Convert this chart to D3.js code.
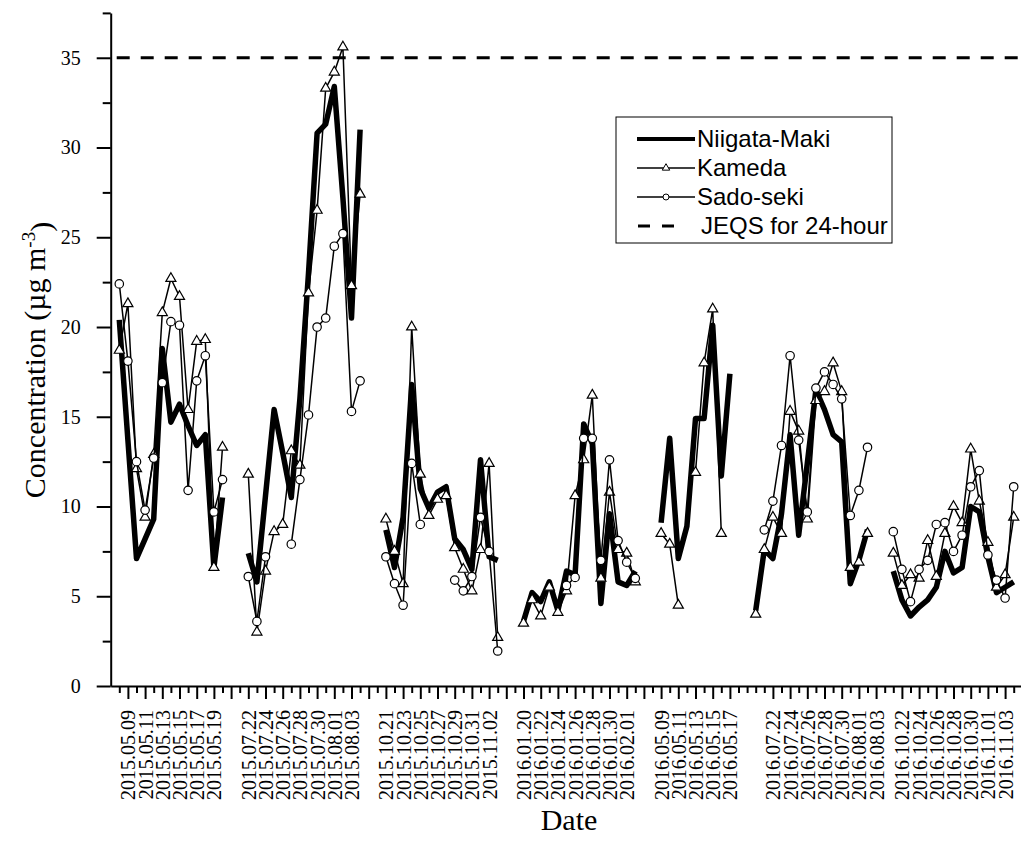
<!DOCTYPE html>
<html>
<head>
<meta charset="utf-8">
<script src="https://cdn.jsdelivr.net/npm/d3@7"></script>
<style>
  body { margin: 0; background: #fff; }
  svg { display: block; }
</style>
</head>
<body>
<div id="chart"></div>
<script>
// sampling dates, one array per campaign
const may2015 = ["2015.05.08","2015.05.09","2015.05.10","2015.05.11","2015.05.12","2015.05.13","2015.05.14","2015.05.15","2015.05.16","2015.05.17","2015.05.18","2015.05.19","2015.05.20"];
const jul2015 = ["2015.07.22","2015.07.23","2015.07.24","2015.07.25","2015.07.26","2015.07.27","2015.07.28","2015.07.29","2015.07.30","2015.07.31","2015.08.01","2015.08.02","2015.08.03","2015.08.04"];
const oct2015 = ["2015.10.21","2015.10.22","2015.10.23","2015.10.24","2015.10.25","2015.10.26","2015.10.27","2015.10.28","2015.10.29","2015.10.30","2015.10.31","2015.11.01","2015.11.02","2015.11.03"];
const jan2016 = ["2016.01.20","2016.01.21","2016.01.22","2016.01.23","2016.01.24","2016.01.25","2016.01.26","2016.01.27","2016.01.28","2016.01.29","2016.01.30","2016.01.31","2016.02.01","2016.02.02"];
const may2016 = ["2016.05.09","2016.05.10","2016.05.11","2016.05.12","2016.05.13","2016.05.14","2016.05.15","2016.05.16","2016.05.17"];
const jul2016 = ["2016.07.20","2016.07.21","2016.07.22","2016.07.23","2016.07.24","2016.07.25","2016.07.26","2016.07.27","2016.07.28","2016.07.29","2016.07.30","2016.07.31","2016.08.01","2016.08.02","2016.08.03"];
const oct2016 = ["2016.10.21","2016.10.22","2016.10.23","2016.10.24","2016.10.25","2016.10.26","2016.10.27","2016.10.28","2016.10.29","2016.10.30","2016.10.31","2016.11.01","2016.11.02","2016.11.03","2016.11.04"];

// empty category slots after each campaign
const gapsAfter = [2, 2, 2, 2, 2, 1, 0];

// dates printed under the axis
const tickLabels = [
  "2015.05.09","2015.05.11","2015.05.13","2015.05.15","2015.05.17","2015.05.19",
  "2015.07.22","2015.07.24","2015.07.26","2015.07.28","2015.07.30","2015.08.01","2015.08.03",
  "2015.10.21","2015.10.23","2015.10.25","2015.10.27","2015.10.29","2015.10.31","2015.11.02",
  "2016.01.20","2016.01.22","2016.01.24","2016.01.26","2016.01.28","2016.01.30","2016.02.01",
  "2016.05.09","2016.05.11","2016.05.13","2016.05.15","2016.05.17",
  "2016.07.22","2016.07.24","2016.07.26","2016.07.28","2016.07.30","2016.08.01","2016.08.03",
  "2016.10.22","2016.10.24","2016.10.26","2016.10.28","2016.10.30","2016.11.01","2016.11.03"
];

// PM2.5 (ug m-3), same order as the dates; null = no sample
const niigataMaki = [
  [20.4, 13.7, 7.1, 8.2, 9.3, 18.8, 14.7, 15.7, 14.5, 13.4, 14.0, 6.6, 10.5],
  [7.4, 5.8, 10.6, 15.4, 13.0, 10.5, 16.0, 23.0, 30.8, 31.3, 33.4, 27.2, 20.5, 31.0],
  [8.7, 6.6, 9.4, 16.8, 11.0, 9.9, 10.8, 11.1, 8.2, 7.6, 6.5, 12.6, 7.2, 7.0],
  [3.6, 5.2, 4.7, 5.8, 4.2, 6.4, 6.2, 14.6, 13.5, 4.6, 9.6, 5.8, 5.6, 6.4],
  [9.1, 13.8, 7.1, 8.9, 14.9, 14.9, 20.1, 11.7, 17.4],
  [4.2, 7.6, 7.1, 9.6, 14.0, 8.4, 12.4, 16.5, 15.4, 14.0, 13.6, 5.7, 7.0, 8.7, null],
  [6.4, 4.8, 3.9, 4.4, 4.8, 5.5, 7.5, 6.3, 6.6, 10.0, 9.7, 7.2, 5.2, 5.5, 5.8]
];
const kameda = [
  [18.7, 21.3, 12.1, 9.4, 12.9, 20.8, 22.7, 21.7, 15.4, 19.2, 19.3, 6.6, 13.3],
  [11.8, 3.0, 6.4, 8.6, 9.0, 13.1, 12.3, 21.9, 26.5, 33.3, 34.2, 35.6, 22.3, 27.4],
  [9.3, 7.5, 5.7, 20.0, 11.8, 9.5, 10.4, 10.6, 7.7, 6.5, 5.3, 7.6, 12.4, 2.7],
  [3.5, 4.8, 3.9, 5.5, 4.1, 5.3, 10.6, 12.6, 16.2, 6.0, 10.8, 7.6, 7.4, 5.8],
  [8.5, 7.9, 4.5, null, 11.9, 18.0, 21.0, 8.5, null],
  [4.0, 7.6, 9.4, 8.5, 15.3, 14.2, 9.3, 15.9, 16.4, 18.0, 16.4, 6.6, 6.9, 8.5, null],
  [7.4, 5.6, 6.2, 6.0, 8.1, 6.1, 8.5, 10.0, 9.1, 13.2, 10.3, 8.0, 5.5, 6.2, 9.4]
];
const sadoSeki = [
  [22.4, 18.1, 12.5, 9.8, 12.7, 16.9, 20.3, 20.1, 10.9, 17.0, 18.4, 9.7, 11.5],
  [6.1, 3.6, 7.2, null, null, 7.9, 11.5, 15.1, 20.0, 20.5, 24.5, 25.2, 15.3, 17.0],
  [7.2, 5.7, 4.5, 12.4, 9.0, null, null, null, 5.9, 5.3, 6.1, 9.4, 7.5, 1.95],
  [null, null, null, null, null, 5.6, 6.05, 13.8, 13.8, 7.0, 12.6, 8.1, 6.9, 6.0],
  [null, null, null, null, null, null, null, null, null],
  [null, 8.7, 10.3, 13.4, 18.4, 13.7, 9.7, 16.6, 17.5, 16.8, 16.0, 9.5, 10.9, 13.3, null],
  [8.6, 6.5, 4.7, 6.5, 7.0, 9.0, 9.1, 7.5, 8.4, 11.1, 12.0, 7.3, 5.9, 4.9, 11.1]
];

const jeqs24h = 35;
const yMajorTicks = [0, 5, 10, 15, 20, 25, 30, 35];
const legendLabels = ["Niigata-Maki", "Kameda", "Sado-seki", "JEQS for 24-hour"];

// campaigns laid out on one category axis
const campaigns = [may2015, jul2015, oct2015, jan2016, may2016, jul2016, oct2016];
var rows = [];
var slot = 0;
campaigns.forEach(function(dates, c) {
  dates.forEach(function(date, i) {
    rows.push({
      slot: slot + i,
      date: date,
      campaign: c,
      niigata: niigataMaki[c][i],
      kameda: kameda[c][i],
      sado: sadoSeki[c][i]
    });
  });
  slot += dates.length + gapsAfter[c];
});

var width = 1021, height = 841;
var svg = d3.select("#chart").append("svg")
  .attr("width", width)
  .attr("height", height);

var x = d3.scaleLinear().domain([-1, 105]).range([110.7, 110.7 + 106 * 8.6]);
var y = d3.scaleLinear().domain([0, 37.5]).range([686, 12.9]);

var serif = "'Liberation Serif', 'Times New Roman', serif";
var sans = "'Liberation Sans', Arial, sans-serif";

// y axis
var yMinor = d3.range(2.5, 38, 5);
svg.append("g")
  .attr("transform", "translate(" + x(-1) + ",0)")
  .call(d3.axisLeft(y).tickValues(yMinor).tickSize(8).tickSizeOuter(0).tickFormat(""))
  .call(function(g) { g.select(".domain").remove(); })
  .selectAll("line").attr("stroke-width", 2);

var yAxis = svg.append("g")
  .attr("transform", "translate(" + x(-1) + ",0)")
  .call(d3.axisLeft(y).tickValues(yMajorTicks).tickSize(14).tickSizeOuter(0).tickPadding(16));
yAxis.select(".domain").attr("stroke-width", 2);
yAxis.selectAll("line").attr("stroke-width", 2);
yAxis.selectAll("text").style("font", "20px " + serif).attr("fill", "#000");

// x axis: a tick on every slot, the labelled ones are long
var labelOf = {};
rows.forEach(function(r) {
  if (tickLabels.indexOf(r.date) >= 0) labelOf[r.slot] = r.date;
});
var allSlots = d3.range(0, 106);
var majorSlots = allSlots.filter(function(s) {
  if (labelOf[s]) return true;
  if (s >= 72 && s <= 89) return false;
  return s % 2 === 1;
});
var minorSlots = allSlots.filter(s => majorSlots.indexOf(s) < 0);

svg.append("g")
  .attr("transform", "translate(0," + y(0) + ")")
  .call(d3.axisBottom(x).tickValues(minorSlots).tickSize(7).tickSizeOuter(0).tickFormat(""))
  .call(function(g) { g.select(".domain").remove(); })
  .selectAll("line").attr("stroke-width", 2);

var xAxis = svg.append("g")
  .attr("transform", "translate(0," + y(0) + ")")
  .call(d3.axisBottom(x).tickValues(majorSlots).tickSize(13).tickSizeOuter(0)
    .tickFormat(function(d) { return labelOf[d] || ""; }));
xAxis.select(".domain").attr("stroke-width", 2);
xAxis.selectAll("line").attr("stroke-width", 2);
xAxis.selectAll("text")
  .style("font", "20px " + serif)
  .attr("fill", "#000")
  .attr("text-anchor", "end")
  .attr("transform", "rotate(-90)")
  .attr("x", -24)
  .attr("y", 0)
  .attr("dy", "0.35em");

// axis titles
svg.append("text")
  .attr("transform", "translate(45,360) rotate(-90)")
  .attr("text-anchor", "middle")
  .style("font", "30px " + serif)
  .call(function(t) {
    t.append("tspan").text("Concentration (\u00b5g m");
    t.append("tspan").attr("dy", "-0.55em").style("font-size", "19px").text("-3");
    t.append("tspan").attr("dy", "0.55em").text(")");
  });

svg.append("text")
  .attr("x", 569)
  .attr("y", 830)
  .attr("text-anchor", "middle")
  .style("font", "30px " + serif)
  .text("Date");

// 24-hour standard
svg.append("line")
  .attr("x1", 116.7).attr("x2", width)
  .attr("y1", y(jeqs24h)).attr("y2", y(jeqs24h))
  .attr("stroke", "#000")
  .attr("stroke-width", 3)
  .attr("stroke-dasharray", "13,11");

// series
function drawSeries(key, opts) {
  var line = d3.line()
    .defined(function(d) { return d[key] !== null && d[key] !== undefined; })
    .x(function(d) { return x(d.slot); })
    .y(function(d) { return y(d[key]); });

  d3.range(campaigns.length).forEach(function(c) {
    svg.append("path")
      .datum(rows.filter(r => r.campaign === c))
      .attr("d", line)
      .attr("fill", "none")
      .attr("stroke", "#000")
      .attr("stroke-width", opts.width)
      .attr("stroke-linejoin", "round");
  });

  if (opts.symbol) {
    svg.selectAll(".m-" + key)
      .data(rows.filter(r => r[key] !== null && r[key] !== undefined))
      .enter()
      .append("path")
      .attr("class", "m-" + key)
      .attr("d", d3.symbol().type(opts.symbol).size(opts.size))
      .attr("transform", function(d) { return "translate(" + x(d.slot) + "," + y(d[key]) + ")"; })
      .attr("fill", "#fff")
      .attr("stroke", "#000")
      .attr("stroke-width", 1.2);
  }
}

drawSeries("niigata", { width: 5.5 });
drawSeries("kameda", { width: 1.5, symbol: d3.symbolTriangle, size: 44 });
drawSeries("sado", { width: 1.5, symbol: d3.symbolCircle, size: 56 });

// legend
var legend = svg.append("g");
legend.append("rect")
  .attr("x", 616).attr("y", 117)
  .attr("width", 276).attr("height", 126)
  .attr("fill", "#fff")
  .attr("stroke", "#000")
  .attr("stroke-width", 1);

var rowY = [139, 168, 197, 226];
legendLabels.forEach(function(label, i) {
  var yy = rowY[i];
  if (i < 3) {
    legend.append("line")
      .attr("x1", 637).attr("x2", 695)
      .attr("y1", yy).attr("y2", yy)
      .attr("stroke", "#000")
      .attr("stroke-width", i === 0 ? 4 : 1.5);
  } else {
    legend.append("line")
      .attr("x1", 638).attr("x2", 674)
      .attr("y1", yy).attr("y2", yy)
      .attr("stroke", "#000")
      .attr("stroke-width", 3)
      .attr("stroke-dasharray", "12,12");
  }
  if (i === 1 || i === 2) {
    legend.append("path")
      .attr("d", d3.symbol().type(i === 1 ? d3.symbolTriangle : d3.symbolCircle).size(i === 1 ? 24 : 28))
      .attr("transform", "translate(666," + yy + ")")
      .attr("fill", "#fff")
      .attr("stroke", "#000")
      .attr("stroke-width", 1);
  }
  legend.append("text")
    .attr("x", i === 3 ? 701 : 697)
    .attr("y", yy)
    .attr("dy", "0.35em")
    .style("font", "24px " + sans)
    .text(label);
});
</script>
</body>
</html>
